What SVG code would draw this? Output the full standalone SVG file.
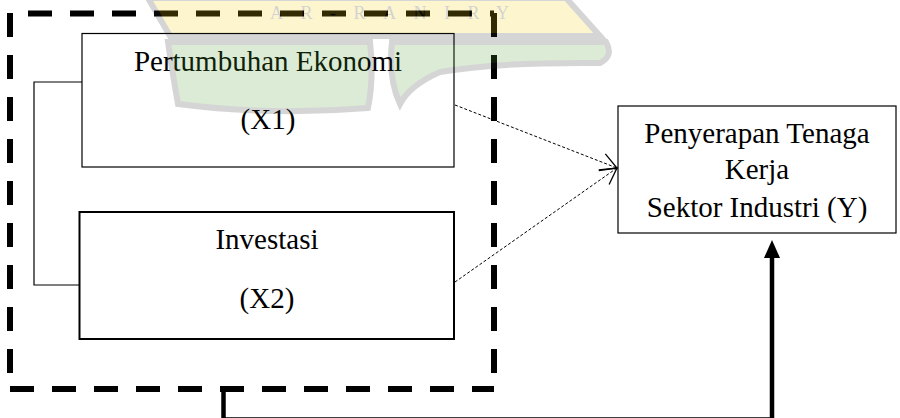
<svg xmlns="http://www.w3.org/2000/svg" width="900" height="418" viewBox="0 0 900 418">
<style>
.box{fill:none;stroke:#000}
.lbl{font-family:"Liberation Serif","Times New Roman",serif;font-size:29px;fill:#000;text-anchor:middle}
.frame{stroke:#000;stroke-width:6;stroke-dasharray:24 18;fill:none}
.dash{stroke:#000;stroke-width:1;stroke-dasharray:3 2;fill:none}
</style>
<defs>
<marker id="vhead" markerUnits="userSpaceOnUse" markerWidth="24" markerHeight="24" viewBox="-20 -12 24 24" refX="0" refY="0" orient="auto">
<path d="M-16,-9 L0,0 L-16,9" fill="none" stroke="#000" stroke-width="1.3"/>
</marker>
</defs>
<rect width="900" height="418" fill="#fff"/>
<g id="frame">
<line class="frame" x1="28" y1="13.5" x2="494" y2="13.5"/>
<line class="frame" x1="10" y1="13" x2="10" y2="389"/>
<line class="frame" x1="494" y1="13" x2="494" y2="389"/>
<line class="frame" x1="10" y1="389" x2="494" y2="389"/>
</g>
<g id="x1">
<rect class="box" x="82" y="33.5" width="372" height="133.5" stroke-width="1.2"/>
<text class="lbl" x="268" y="71">Pertumbuhan Ekonomi</text>
<text class="lbl" x="268" y="129">(X1)</text>
</g>
<g id="x2">
<rect class="box" x="79.5" y="212" width="374.5" height="127" stroke-width="2"/>
<text class="lbl" x="267" y="249">Investasi</text>
<text class="lbl" x="267" y="308">(X2)</text>
</g>
<g id="y">
<rect class="box" x="618" y="106" width="278" height="127" stroke-width="1.2"/>
<text class="lbl" x="757" y="143">Penyerapan Tenaga</text>
<text class="lbl" x="757" y="179">Kerja</text>
<text class="lbl" x="757" y="217">Sektor Industri (Y)</text>
</g>
<g id="connectors">
<path d="M82,82 H34 V285 H79.5" fill="none" stroke="#000" stroke-width="1.2"/>
<line class="dash" x1="455" y1="105" x2="617" y2="168" marker-end="url(#vhead)"/>
<line class="dash" x1="455" y1="282" x2="617" y2="168" marker-end="url(#vhead)"/>
<path d="M223.5,387 V419.5 H772 V256" fill="none" stroke="#000" stroke-width="4.5"/>
<polygon points="772,240 764,258 780,258" fill="#000"/>
</g>
<g id="watermark" opacity="0.2">
<path d="M148,-2 L566,-2 L600,36 L170,36 Z" fill="#fad20f" stroke="#333" stroke-width="6"/>
<path d="M168,42 L370,42 Q374,78 368,108 Q270,116 178,104 Q172,70 168,42 Z" fill="#50a032" stroke="#333" stroke-width="6"/>
<path d="M392,42 L606,42 Q614,56 600,63 Q500,62 440,72 Q410,85 400,104 Q388,78 392,42 Z" fill="#50a032" stroke="#333" stroke-width="6"/>
<text x="270" y="19" font-family="Liberation Serif, serif" font-size="18" letter-spacing="17.5" fill="#222">AR-RANIRY</text>
</g>
</svg>
